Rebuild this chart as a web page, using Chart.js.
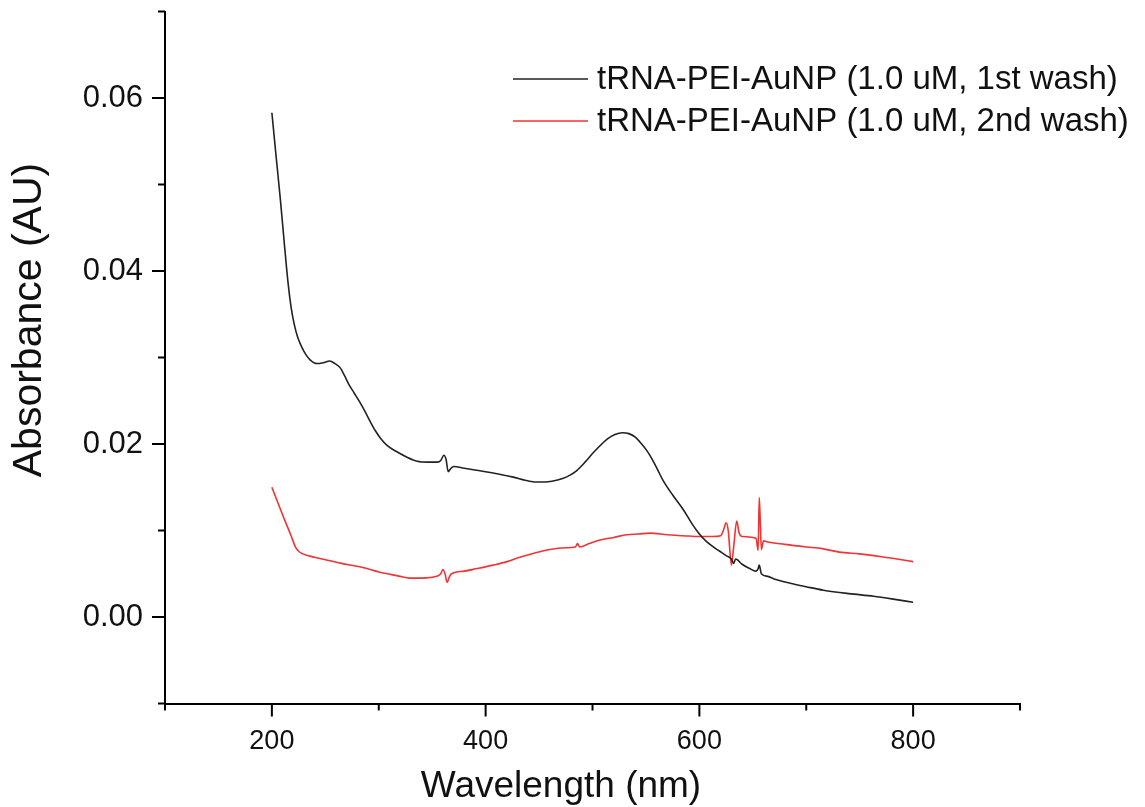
<!DOCTYPE html>
<html>
<head>
<meta charset="utf-8">
<script src="https://cdn.jsdelivr.net/npm/chart.js@4.4.1/dist/chart.umd.min.js"></script>
<style>
  body { margin: 0; background: #fff; }
  canvas { display: block; }
</style>
</head>
<body>
<canvas id="spectra" width="1145" height="807"></canvas>
<script>
// series labels and axis titles
const seriesLabels = ['tRNA-PEI-AuNP (1.0 uM, 1st wash)', 'tRNA-PEI-AuNP (1.0 uM, 2nd wash)'];
const xTitle = 'Wavelength (nm)';
const yTitle = 'Absorbance (AU)';

// 1st wash (black)
const wl1 = [200, 204, 208, 212, 215, 218, 221, 224, 228, 232, 236, 242, 248, 254, 259, 264, 268,
    272, 277, 282, 287, 292, 297, 302, 308, 317, 326, 336, 346, 355, 358, 361, 363, 365, 367, 370, 380,
    390, 400, 413, 425, 441, 451, 462, 472, 479, 485, 493, 500, 507, 514, 521, 528, 534, 540, 546, 551,
    556, 561, 566, 575, 585, 593, 600, 606, 613, 619, 625, 630, 632, 634, 640, 647, 653, 655, 656, 658,
    664, 670, 685, 700, 716, 740, 763, 780, 800];
const abs1 = [0.0583, 0.0532, 0.0482, 0.0427, 0.0388, 0.0358, 0.0338, 0.0324, 0.0312, 0.0303, 0.0297, 0.0293, 0.0294, 0.0296, 0.0293, 0.0288, 0.0279,
    0.0269, 0.0259, 0.0249, 0.0238, 0.0226, 0.0215, 0.0206, 0.0198, 0.0191, 0.0185, 0.0180, 0.0179, 0.0179, 0.0181, 0.0187, 0.0182, 0.0168, 0.0171, 0.0174, 0.0172,
    0.0170, 0.0168, 0.0165, 0.0162, 0.0157, 0.0156, 0.0157, 0.0160, 0.0164, 0.0169, 0.0179, 0.0189, 0.0198, 0.0206, 0.0211, 0.0213, 0.0212, 0.0208, 0.0200, 0.0192,
    0.0182, 0.0170, 0.0158, 0.0141, 0.0124, 0.0108, 0.0096, 0.0088, 0.0081, 0.0076, 0.0071, 0.0067, 0.0062, 0.0067, 0.0061, 0.0056, 0.0053, 0.0056, 0.0060, 0.0050,
    0.0047, 0.0044, 0.0039, 0.0035, 0.0031, 0.0027, 0.0024, 0.0021, 0.0017];

// 2nd wash (red)
const wl2 = [200, 206, 212, 218, 222, 225, 229, 240, 251, 265, 282, 292, 300, 308, 320, 329, 340, 354, 358, 360,
    362, 364, 366, 368, 380, 392, 407, 420, 432, 446, 460, 475, 484, 486, 488, 497, 507, 520, 532, 543,
    554, 570, 585, 600, 612, 620, 623, 625, 627, 630, 632, 635, 637, 640, 653, 655, 656, 657, 658, 660,
    663, 680, 700, 715, 731, 750, 769, 785, 800];
const abs2 = [0.0150, 0.0131, 0.0112, 0.0094, 0.0081, 0.0076, 0.0073, 0.0069, 0.0066, 0.0062, 0.0058, 0.0055, 0.0052, 0.0050, 0.0047, 0.0045, 0.0045, 0.0047, 0.0050, 0.0055,
    0.0050, 0.0040, 0.0046, 0.0050, 0.0053, 0.0056, 0.0060, 0.0064, 0.0069, 0.0074, 0.0078, 0.0080, 0.0081, 0.0085, 0.0081, 0.0085, 0.0089, 0.0092, 0.0095, 0.0096,
    0.0097, 0.0095, 0.0094, 0.0093, 0.0093, 0.0094, 0.0102, 0.0109, 0.0100, 0.0060, 0.0080, 0.0111, 0.0098, 0.0093, 0.0091, 0.0077, 0.0138, 0.0110, 0.0078, 0.0088,
    0.0087, 0.0084, 0.0081, 0.0079, 0.0075, 0.0073, 0.0070, 0.0067, 0.0064];

const lineColors = ['#222222', '#f03333'];

function toPoints(xs, ys) {
    let pts = [];
    for (let i = 0; i < xs.length; i++) {
        pts.push({x: xs[i], y: ys[i]});
    }
    return pts;
}

const fontFamily = "'Liberation Sans', Arial, sans-serif";

// outward tick marks, long for labelled ones, short for the others
const tickMarks = {
    id: 'tickMarks',
    afterDraw(chart) {
        const ctx = chart.ctx;
        const area = chart.chartArea;
        ctx.save();
        ctx.strokeStyle = '#000';
        ctx.lineWidth = 2;
        const xs = chart.scales.x;
        xs.ticks.forEach(function(t) {
            let px = xs.getPixelForValue(t.value);
            let len = (t.value % 200 === 0) ? 13 : 7;
            ctx.beginPath();
            ctx.moveTo(px, area.bottom);
            ctx.lineTo(px, area.bottom + len);
            ctx.stroke();
        });
        const ys = chart.scales.y;
        ys.ticks.forEach(function(t) {
            let py = ys.getPixelForValue(t.value);
            let len = (Math.abs(Math.round(t.value * 100)) % 2 === 0) ? 13 : 7;
            ctx.beginPath();
            ctx.moveTo(area.left, py);
            ctx.lineTo(area.left - len, py);
            ctx.stroke();
        });
        ctx.restore();
    }
};

// axis titles, placed like in the original (a bit off the axis centre)
const axisTitles = {
    id: 'axisTitles',
    afterDraw(chart) {
        const ctx = chart.ctx;
        ctx.save();
        ctx.fillStyle = '#111';
        ctx.textAlign = 'center';
        ctx.textBaseline = 'middle';
        ctx.font = '37px ' + fontFamily;
        ctx.fillText(xTitle, 561, 787);
        ctx.translate(30, 320);
        ctx.rotate(-Math.PI / 2);
        ctx.font = '41px ' + fontFamily;
        ctx.fillText(yTitle, 0, 0);
        ctx.restore();
    }
};

// legend drawn at the top right like the original
const sideLegend = {
    id: 'sideLegend',
    afterDraw(chart) {
        const ctx = chart.ctx;
        ctx.save();
        ctx.font = '33px ' + fontFamily;
        ctx.textBaseline = 'middle';
        ctx.fillStyle = '#111';
        chart.data.datasets.forEach(function(ds, i) {
            let y = 79 + i * 42;
            ctx.strokeStyle = ds.borderColor;
            ctx.lineWidth = 1.6;
            ctx.beginPath();
            ctx.moveTo(513, y);
            ctx.lineTo(588, y);
            ctx.stroke();
            ctx.fillText(ds.label, 597, y + 1);
        });
        ctx.restore();
    }
};

let ctx = document.getElementById('spectra').getContext('2d');

let myChart = new Chart(ctx, {
    type: 'line',
    data: {
        datasets: [{
            label: seriesLabels[0],
            data: toPoints(wl1, abs1),
            borderColor: lineColors[0],
            borderWidth: 1.6,
            pointRadius: 0,
            cubicInterpolationMode: 'monotone'
        }, {
            label: seriesLabels[1],
            data: toPoints(wl2, abs2),
            borderColor: lineColors[1],
            borderWidth: 1.6,
            pointRadius: 0,
            cubicInterpolationMode: 'monotone'
        }]
    },
    options: {
        responsive: false,
        animation: false,
        layout: {
            padding: {top: 11.5, right: 125, bottom: 0, left: 0}
        },
        plugins: {
            legend: {display: false},
            tooltip: {enabled: false}
        },
        scales: {
            x: {
                type: 'linear',
                min: 100,
                max: 900,
                grid: {display: false, drawTicks: false},
                border: {display: true, color: '#000', width: 2},
                ticks: {
                    stepSize: 100,
                    autoSkip: false,
                    maxRotation: 0,
                    padding: 22,
                    color: '#111',
                    font: {family: fontFamily, size: 27},
                    callback: function(v) { return v % 200 === 0 ? String(v) : ''; }
                },
                afterFit: function(scale) {
                    scale.height = 103.5;
                    scale.paddingLeft = 0;
                    scale.paddingRight = 0;
                }
            },
            y: {
                type: 'linear',
                min: -0.01,
                max: 0.07,
                grid: {display: false, drawTicks: false},
                border: {display: true, color: '#000', width: 2},
                ticks: {
                    stepSize: 0.01,
                    autoSkip: false,
                    padding: 22,
                    color: '#111',
                    font: {family: fontFamily, size: 31},
                    callback: function(v) {
                        let n = Math.round(v * 100);
                        return (Math.abs(n) % 2 === 0) ? (n / 100).toFixed(2) : '';
                    }
                },
                afterFit: function(scale) {
                    scale.width = 165;
                    scale.paddingTop = 0;
                    scale.paddingBottom = 0;
                }
            }
        }
    },
    plugins: [tickMarks, axisTitles, sideLegend]
});
</script>
</body>
</html>
